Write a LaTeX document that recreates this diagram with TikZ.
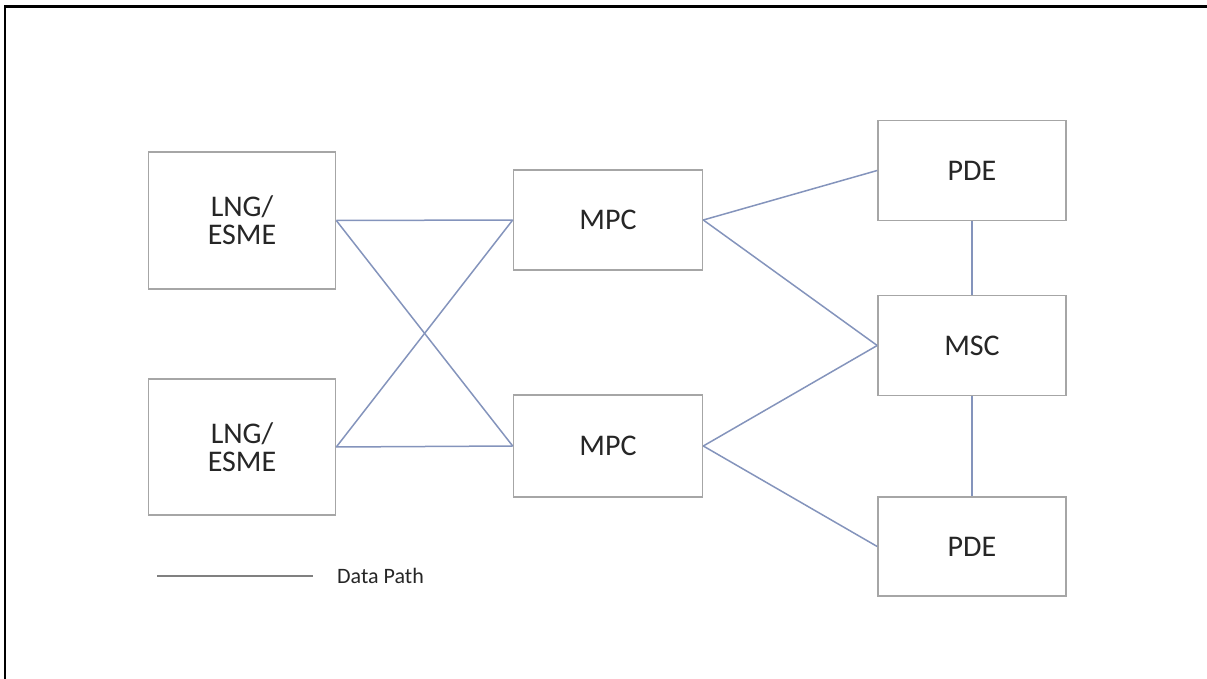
\documentclass[tikz,border=0pt]{standalone}
\usepackage{fontspec}
\setmainfont{Carlito}
\usepackage{tikz}
\usetikzlibrary{calc}

\definecolor{boxgray}{HTML}{A6A6A6}
\definecolor{pathblue}{HTML}{8494BC}
\definecolor{labelgray}{HTML}{262626}

\begin{document}
\begin{tikzpicture}[%
    x=1pt, y=-1pt,
    unit/.style={draw=boxgray, line width=1.6pt, fill=white, text=labelgray,
                 align=center, inner sep=0pt,
                 font=\fontsize{30}{28}\selectfont},
    datapath/.style={draw=pathblue, line width=1.5pt},
    frame/.style={draw=black, line width=2.2pt}
  ]
    \useasboundingbox (0,0) rectangle (1207,679);

    % outer frame (only top and left edges show)
    \draw[frame] (5,685) -- (5,6.5) -- (1215,6.5);

    \node[unit, minimum width=187, minimum height=137] (lng1) at (242,220.5) {LNG/\\ESME};
    \node[unit, minimum width=187, minimum height=136] (lng2) at (242,447)   {LNG/\\ESME};
    \node[unit, minimum width=189, minimum height=100] (mpc1) at (608,220)   {MPC};
    \node[unit, minimum width=189, minimum height=102] (mpc2) at (608,446)   {MPC};
    \node[unit, minimum width=188, minimum height=100] (pde1) at (972,170.5) {PDE};
    \node[unit, minimum width=188, minimum height=100] (msc)  at (972,345.5) {MSC};
    \node[unit, minimum width=188, minimum height=99]  (pde2) at (972,546.5) {PDE};

    \path (lng1.east) edge[datapath] (mpc1.west)
          (lng1.east) edge[datapath] (mpc2.west)
          (lng2.east) edge[datapath] (mpc1.west)
          (lng2.east) edge[datapath] (mpc2.west)
          (mpc1.east) edge[datapath] (pde1.west)
          (mpc1.east) edge[datapath] (msc.west)
          (mpc2.east) edge[datapath] (msc.west)
          (mpc2.east) edge[datapath] (pde2.west)
          (pde1.south) edge[datapath] (msc.north)
          (msc.south)  edge[datapath] (pde2.north);

    % legend
    \coordinate (legend-start) at (157,576);
    \coordinate (legend-end)   at (313,576);
    \draw[datapath, draw=gray] (legend-start) -- (legend-end);
    \node[anchor=base west, inner sep=0pt, text=labelgray,
          font=\fontsize{22}{26}\selectfont] (legend) at (337,583) {Data Path};
\end{tikzpicture}
\end{document}
